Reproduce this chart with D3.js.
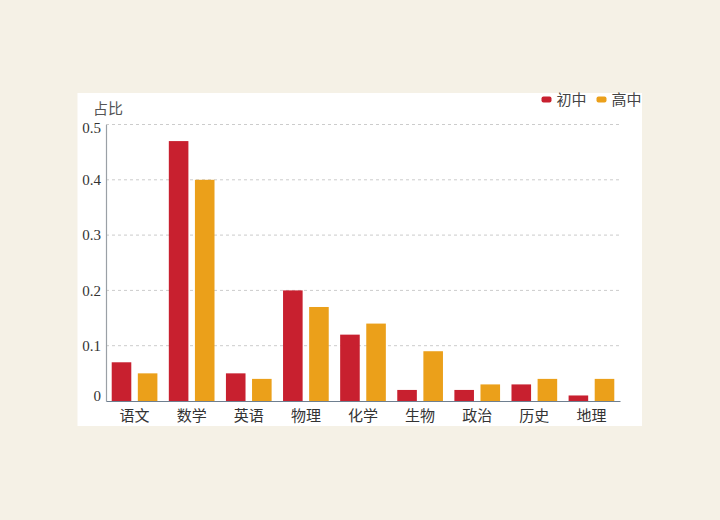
<!DOCTYPE html>
<html><head><meta charset="utf-8">
<script src="https://cdn.jsdelivr.net/npm/d3@7"></script>
<style>
html,body{margin:0;padding:0;background:#f5f1e6;}
svg{display:block;}
</style></head>
<body><svg id="c" width="720" height="520"></svg>
<script>
const categories = ["语文","数学","英语","物理","化学","生物","政治","历史","地理"];
const seriesNames = ["初中","高中"];
const juniorValues = [0.07,0.47,0.05,0.20,0.12,0.02,0.02,0.03,0.01];
const seniorValues = [0.05,0.40,0.04,0.17,0.14,0.09,0.03,0.04,0.04];
const yTicks = [0,0.1,0.2,0.3,0.4,0.5];
const yTickLabels = ["0","0.1","0.2","0.3","0.4","0.5"];
const colors = ["#c8202f","#eba01a"];

const svg = d3.select("#c");
const serif = "'Liberation Serif','Noto Sans CJK SC',serif";
svg.append("rect").attr("x",77.5).attr("y",93).attr("width",564.5).attr("height",333).attr("fill","#ffffff");

const x0 = d3.scaleBand().domain(categories).range([106,620]).paddingInner(0.2).paddingOuter(0.1);
const x1 = d3.scaleBand().domain(seriesNames).range([0,x0.bandwidth()]).paddingInner(0.25).paddingOuter(0);
const y = d3.scaleLinear().domain([0,0.5]).range([401,124.5]);

// grid
svg.append("g").selectAll("line").data(yTicks.slice(1)).join("line")
  .attr("x1",106).attr("x2",620).attr("y1",d=>y(d)).attr("y2",d=>y(d))
  .attr("stroke","#cccccc").attr("stroke-dasharray","3,3").attr("stroke-width",1);

// y axis
const yAxis = d3.axisLeft(y).tickValues(yTicks).tickSize(0).tickPadding(5)
  .tickFormat((d,i)=>yTickLabels[i]);
const gy = svg.append("g").attr("transform","translate(106,0)").call(yAxis);
gy.select(".domain").attr("stroke","#9aa0a6").attr("stroke-width",1.2);
gy.selectAll("text").attr("font-family",serif).attr("font-size",15).attr("fill","#333")
  .attr("dy",d=> d===0 ? "-0.05em" : (d===0.5 ? "0.5em" : "0.32em"));

// bars
const data = categories.map((c,i)=>({c, vals:[juniorValues[i],seniorValues[i]]}));
const groups = svg.append("g").selectAll("g").data(data).join("g")
  .attr("transform",d=>`translate(${x0(d.c)},0)`);
groups.selectAll("rect").data(d=>d.vals.map((v,j)=>({s:seriesNames[j],v,j}))).join("rect")
  .attr("x",d=>x1(d.s)).attr("width",x1.bandwidth())
  .attr("y",d=>y(d.v)).attr("height",d=>y(0)-y(d.v))
  .attr("fill",d=>colors[d.j]);

// x axis
const xAxis = d3.axisBottom(x0).tickSize(0).tickPadding(9);
const gx = svg.append("g").attr("transform","translate(0,401)").call(xAxis);
gx.select(".domain").attr("stroke","#6e7f90").attr("stroke-width",1.2);
gx.selectAll("text").attr("font-family",serif).attr("font-size",15).attr("fill","#333");

// y title
svg.append("text").attr("x",93).attr("y",114).text("占比")
  .attr("font-family",serif).attr("font-size",15).attr("fill","#555");

// legend
const legX = [541.5,596.5];
seriesNames.forEach((s,i)=>{
  svg.append("rect").attr("x",legX[i]).attr("y",96.5).attr("width",10).attr("height",6).attr("rx",2)
    .attr("fill",colors[i]);
  svg.append("text").attr("x",legX[i]+15).attr("y",105).text(s)
    .attr("font-family",serif).attr("font-size",15).attr("fill","#444");
});
</script>
</body></html>
